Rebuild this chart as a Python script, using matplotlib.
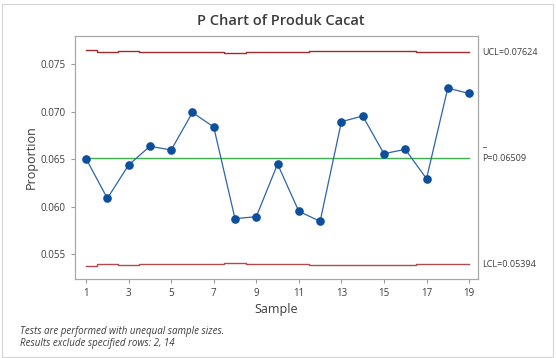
import matplotlib
matplotlib.use("Agg")
from matplotlib import pyplot as plt
from matplotlib.patches import Rectangle

# dane
samples = list(range(1, 20))
proportion = [0.06503, 0.06086, 0.06437, 0.06634, 0.06595, 0.06990, 0.06837,
              0.05872, 0.05893, 0.06447, 0.05949, 0.05844, 0.06893, 0.06953,
              0.06556, 0.06602, 0.06293, 0.07247, 0.07190]
ucl = [0.07645, 0.07624, 0.07634, 0.07624, 0.07624, 0.07624, 0.07624,
       0.07613, 0.07624, 0.07624, 0.07624, 0.07634, 0.07634, 0.07634,
       0.07634, 0.07634, 0.07624, 0.07624, 0.07624]
lcl = [0.05373, 0.05394, 0.05384, 0.05394, 0.05394, 0.05394, 0.05394,
       0.05405, 0.05394, 0.05394, 0.05394, 0.05384, 0.05384, 0.05384,
       0.05384, 0.05384, 0.05394, 0.05394, 0.05394]
p_bar = 0.06509
x_ticks = list(range(1, 20, 2))
y_ticks = [0.055, 0.060, 0.065, 0.070, 0.075]

plt.rcParams['font.family'] = ['Open Sans', 'DejaVu Sans']
txt = "#3c3c3c"

fig = plt.figure(figsize=(5.56, 3.58), dpi=100)
fig.patches.append(Rectangle((0.003, 0.004), 0.992, 0.986, transform=fig.transFigure,
                             fill=False, edgecolor="#d4d4d4", linewidth=0.8))
ax = fig.add_axes([0.1349, 0.2207, 0.7248, 0.6787])

# granice kontrolne
ax.step(samples, ucl, where="mid", color="#9e2a2b", linewidth=1.0)
ax.step(samples, lcl, where="mid", color="#b04a4e", linewidth=1.0)
ax.plot([samples[0], samples[-1]], [p_bar, p_bar], color="#3cb44b", linewidth=1.0)

# proporcje
ax.plot(samples, proportion, color="#2f63a8", linewidth=0.9,
        marker="o", markersize=5.2, markerfacecolor="#0d4f9c", markeredgecolor="#0d4f9c")

ax.set_xlim(0.48, 19.42)
ax.set_ylim(0.05237, 0.07795)
ax.set_xticks(x_ticks)
ax.set_yticks(y_ticks)
ax.set_yticklabels(["%.3f" % v for v in y_ticks])
ax.tick_params(labelsize=7, colors="#9a9a9a", labelcolor=txt, length=3, width=0.8)
for s in ax.spines.values():
    s.set_color("#a8a8a8")
    s.set_linewidth(0.9)

ax.set_xlabel("Sample", fontsize=9, color=txt, labelpad=3)
ax.set_ylabel("Proportion", fontsize=9, color=txt, labelpad=2)
fig.text(0.505, 0.94, "P Chart of Produk Cacat", ha="center", va="center",
         fontsize=10.5, fontweight="semibold", color=txt)

# etykiety limitów
lbl = dict(fontsize=6.5, color=txt, va="center", ha="left", clip_on=False)
ax.text(19.62, ucl[-1], "UCL=%.5f" % ucl[-1], **lbl)
ax.text(19.62, p_bar, "P=%.5f" % p_bar, **lbl)
ax.text(19.62, p_bar + 0.0011, "_", fontsize=6.5, color=txt, va="bottom", ha="left", clip_on=False)
ax.text(19.62, lcl[-1], "LCL=%.5f" % lcl[-1], **lbl)

fig.text(0.036, 0.073, "Tests are performed with unequal sample sizes.",
         fontsize=7, style="italic", color=txt, va="center")
fig.text(0.036, 0.040, "Results exclude specified rows: 2, 14",
         fontsize=7, style="italic", color=txt, va="center")

plt.savefig("out.png", dpi=100)
plt.close()
